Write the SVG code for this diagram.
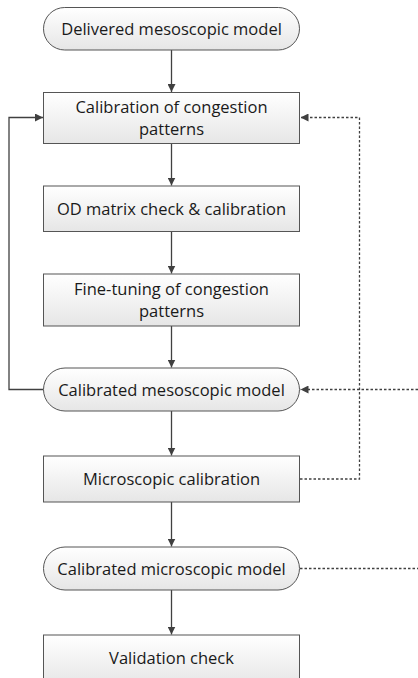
<svg xmlns="http://www.w3.org/2000/svg" width="418" height="678" viewBox="0 0 418 678">
<defs>
<linearGradient id="g" x1="0" y1="0" x2="0" y2="1">
<stop offset="0" stop-color="#ffffff"/>
<stop offset="1" stop-color="#e6e6e6"/>
</linearGradient>
<marker id="a" markerWidth="8" markerHeight="8" viewBox="0 0 8 8" refX="8" refY="4" orient="auto" markerUnits="userSpaceOnUse">
<path d="M0,0 L8,4 L0,8 Z" fill="#404040"/>
</marker>
</defs>
<style>
.n{fill:url(#g);stroke:#555555;stroke-width:1}
.t{font-family:"Open Sans","Liberation Sans",sans-serif;font-size:16.5px;fill:#1a1a1a;text-anchor:middle}
.c{fill:none;stroke:#404040;stroke-width:1.3}
.d{fill:none;stroke:#404040;stroke-width:1.3;stroke-dasharray:2.5,2}
</style>
<g id="connectors">
<path class="c" d="M171.5,50 V92" marker-end="url(#a)"/>
<path class="c" d="M171.5,143.5 V185.5" marker-end="url(#a)"/>
<path class="c" d="M171.5,231.5 V273.5" marker-end="url(#a)"/>
<path class="c" d="M171.5,326 V367.5" marker-end="url(#a)"/>
<path class="c" d="M171.5,411 V455.5" marker-end="url(#a)"/>
<path class="c" d="M171.5,502 V546.5" marker-end="url(#a)"/>
<path class="c" d="M171.5,590 V634.5" marker-end="url(#a)"/>
<path class="c" d="M43.5,389.5 H9 V117.5 H43" marker-end="url(#a)"/>
<path class="d" d="M300,479 H359.5 V117.5 H300.5" marker-end="url(#a)"/>
<path class="d" d="M418,389.5 H300.5" marker-end="url(#a)"/>
<path class="d" d="M300,568.5 H418"/>
</g>
<g id="n1"><rect class="n" x="43.5" y="7.5" width="256" height="42.5" rx="21.25"/><text class="t" x="171.5" y="34.5">Delivered mesoscopic model</text></g>
<g id="n2"><rect class="n" x="43.5" y="92.5" width="256" height="51"/><text class="t" x="171.5" y="112.5">Calibration of congestion</text><text class="t" x="171.5" y="135">patterns</text></g>
<g id="n3"><rect class="n" x="43.5" y="186" width="256" height="45.5"/><text class="t" x="171.5" y="214.5">OD matrix check &amp; calibration</text></g>
<g id="n4"><rect class="n" x="43.5" y="274" width="256" height="52"/><text class="t" x="171.5" y="294.5">Fine-tuning of congestion</text><text class="t" x="171.5" y="317">patterns</text></g>
<g id="n5"><rect class="n" x="43.5" y="368" width="256" height="43" rx="21.5"/><text class="t" x="171.5" y="395.5">Calibrated mesoscopic model</text></g>
<g id="n6"><rect class="n" x="43.5" y="456" width="256" height="46"/><text class="t" x="171.5" y="485">Microscopic calibration</text></g>
<g id="n7"><rect class="n" x="43.5" y="547" width="256" height="43" rx="21.5"/><text class="t" x="171.5" y="574.5">Calibrated microscopic model</text></g>
<g id="n8"><rect class="n" x="43.5" y="635" width="256" height="50"/><text class="t" x="171.5" y="664">Validation check</text></g>
</svg>
